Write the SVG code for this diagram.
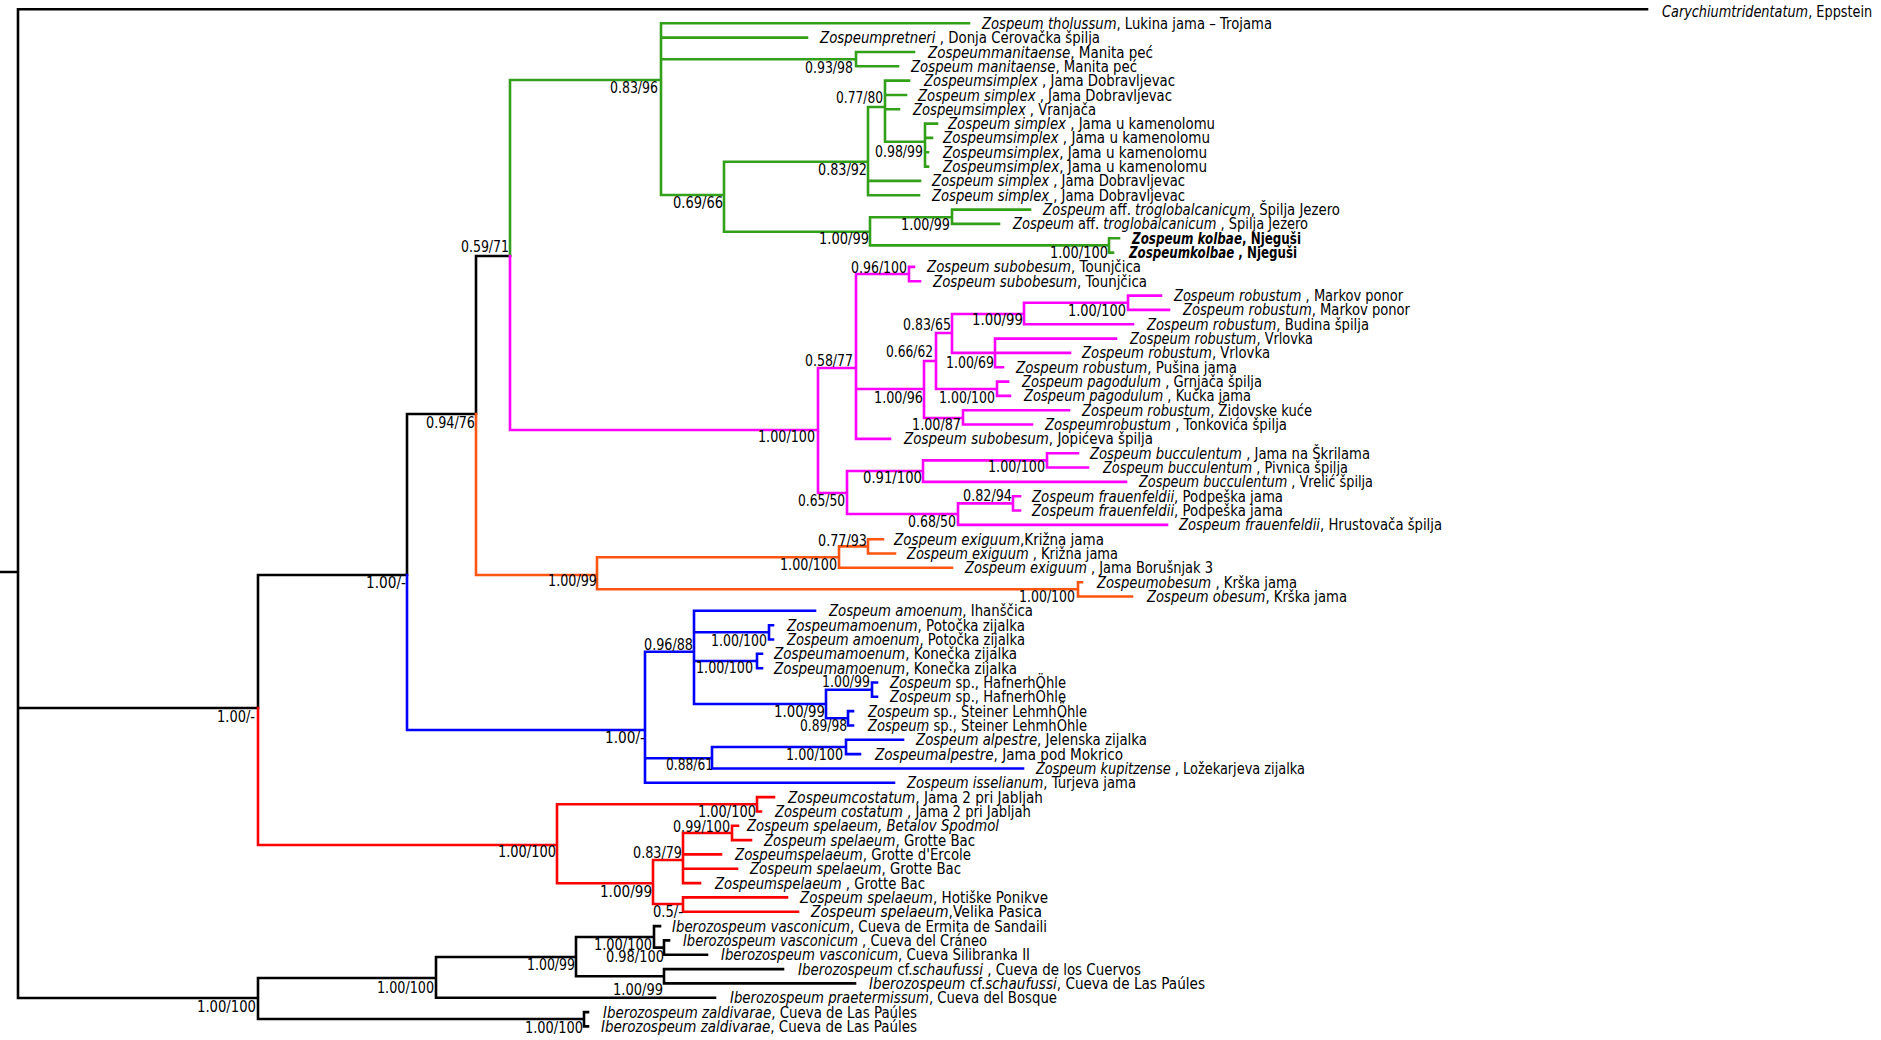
<svg xmlns="http://www.w3.org/2000/svg" width="1881" height="1040" viewBox="0 0 1881 1040">
<style>
text{font-family:"DejaVu Sans","Liberation Sans",sans-serif;font-size:16px;fill:#000}
.i{font-style:italic}
.bd{font-weight:bold}
.b{text-anchor:end}
path{fill:none;stroke-width:2.6;stroke-linecap:square}
.k{stroke:#000}
.gr{stroke:#33a01a}
.mg{stroke:#ff00ff}
.or{stroke:#ff5511}
.bl{stroke:#0000ff}
.rd{stroke:#ff0000}
</style>
<rect width="1881" height="1040" fill="#fff"/>
<g id="connectors">
<path class="k" d="M18,9.3H1647M18,9.3V998M0,572H18M18,708H258M18,998H258M258,575V708M258,575H407M407,414V575M407,414H476M476,256V414M476,256H510
M258,978V1019M258,978H436M258,1019H584M436,957V997.7M436,957H576M436,997.7H715M576,937V976.3M576,937H654M576,976.3H664M654,926.1V947.6M654,926.1H660M654,947.6H664M664,940.4V954.8M664,940.4H669M664,954.8H707M664,969.1V983.4M664,969.1H783M664,983.4H855M584,1012.1V1026.4M584,1012.1H588M584,1026.4H588"/>
<path class="gr" d="M510,80V256M510,80H661M661,23.3V195M661,23.3H969M661,37.6H807M661,59.2H856M856,52V66.3M856,52H914M856,66.3H898M661,195H724M724,161.7V231.7M724,161.7H868M868,107V195.3M868,107H885M868,180.9H920M868,195.3H919M885,80.6V141.7M885,80.6H909M885,95H906M885,109.3H899M885,141.7H925M925,123.6V166.6M925,123.6H937M925,137.9H932M925,152.3H928M925,166.6H928M724,231.7H870M870,217.3V245.4M870,217.3H952M870,245.4H1109M952,209.6V223.9M952,209.6H1030M952,223.9H999M1109,238.3V252.6M1109,238.3H1119M1109,252.6H1113"/>
<path class="mg" d="M510,256V430M510,430H818M818,368V493M818,368H856M856,274V438.9M856,274H909M856,389H924M856,438.9H890M909,266.9V281.2M909,266.9H914M909,281.2H920M924,361V418M924,361H936M924,418H963M936,333V389M936,333H952M936,389H997M952,314V352.9M952,314H1024M952,352.9H1070M1024,302.7V324.2M1024,302.7H1128M1024,324.2H1133M1128,295.6V309.9M1128,295.6H1161M1128,309.9H1169M995,338.6V367.2M995,338.6H1116M995,367.2H1003M997,381.6V395.9M997,381.6H1008M997,395.9H1010M963,410.2V424.5M963,410.2H1069M963,424.5H1032M818,493H847M847,471V514M847,471H923M847,514H958M923,460.4V481.9M923,460.4H1047M923,481.9H1126M1047,453.2V467.5M1047,453.2H1078M1047,467.5H1088M958,503.4V524.9M958,503.4H1013M958,524.9H1167M1013,496.2V510.5M1013,496.2H1020M1013,510.5H1020"/>
<path class="or" d="M476,414V575M476,575H597M597,557.3V589.3M597,557.3H839M597,589.3H1078M839,546.4V567.8M839,546.4H868M839,567.8H952M868,539.2V553.5M868,539.2H883M868,553.5H895M1078,582.2V596.5M1078,582.2H1082M1078,596.5H1132"/>
<path class="bl" d="M407,575V730M407,730H645M645,651.7V782.8M645,651.7H694M645,758.3H712M645,782.8H894M694,610.8V704M694,610.8H815M694,632.3H769M694,661H757M694,704H826M769,625.2V639.5M769,625.2H773M769,639.5H773M757,653.8V668.2M757,653.8H762M757,668.2H762M826,689.7V718.3M826,689.7H872M826,718.3H848M872,682.5V696.8M872,682.5H877M872,696.8H877M848,711.1V725.5M848,711.1H853M848,725.5H853M712,747V768.5M712,747H846M712,768.5H1023M846,739.8V754.1M846,739.8H903M846,754.1H860"/>
<path class="rd" d="M258,708V845M258,845H557M557,804.3V883.3M557,804.3H757M557,883.3H653M757,797.1V811.5M757,797.1H774M757,811.5H761M653,860V904M653,860H683M653,904H683M683,833V883.1M683,833H732M683,854.4H721M683,868.8H737M683,883.1H700M732,825.8V840.1M732,825.8H738M732,840.1H751M683,897.4V911.8M683,897.4H787M683,911.8H798"/>
</g>
<g id="support">
<g id="s1"><text class="b" x="658" y="93" textLength="48" lengthAdjust="spacingAndGlyphs">0.83/96</text></g>
<g id="s2"><text class="b" x="853" y="73" textLength="48" lengthAdjust="spacingAndGlyphs">0.93/98</text></g>
<g id="s3"><text class="b" x="883" y="103" textLength="47" lengthAdjust="spacingAndGlyphs">0.77/80</text></g>
<g id="s4"><text class="b" x="923" y="157" textLength="48" lengthAdjust="spacingAndGlyphs">0.98/99</text></g>
<g id="s5"><text class="b" x="867" y="175" textLength="49" lengthAdjust="spacingAndGlyphs">0.83/92</text></g>
<g id="s6"><text class="b" x="723" y="208" textLength="50" lengthAdjust="spacingAndGlyphs">0.69/66</text></g>
<g id="s7"><text class="b" x="869" y="244" textLength="50" lengthAdjust="spacingAndGlyphs">1.00/99</text></g>
<g id="s8"><text class="b" x="950" y="230" textLength="49" lengthAdjust="spacingAndGlyphs">1.00/99</text></g>
<g id="s9"><text class="b" x="1108" y="258" textLength="58" lengthAdjust="spacingAndGlyphs">1.00/100</text></g>
<g id="s10"><text class="b" x="509" y="252" textLength="48" lengthAdjust="spacingAndGlyphs">0.59/71</text></g>
<g id="s11"><text class="b" x="475" y="428" textLength="49" lengthAdjust="spacingAndGlyphs">0.94/76</text></g>
<g id="s12"><text class="b" x="406" y="588" textLength="40" lengthAdjust="spacingAndGlyphs">1.00/-</text></g>
<g id="s13"><text class="b" x="255" y="722" textLength="38" lengthAdjust="spacingAndGlyphs">1.00/-</text></g>
<g id="s14"><text class="b" x="256" y="1012" textLength="59" lengthAdjust="spacingAndGlyphs">1.00/100</text></g>
<g id="s15"><text class="b" x="434" y="993" textLength="57" lengthAdjust="spacingAndGlyphs">1.00/100</text></g>
<g id="s16"><text class="b" x="575" y="970" textLength="48" lengthAdjust="spacingAndGlyphs">1.00/99</text></g>
<g id="s17"><text class="b" x="652" y="950" textLength="58" lengthAdjust="spacingAndGlyphs">1.00/100</text></g>
<g id="s18"><text class="b" x="664" y="962" textLength="58" lengthAdjust="spacingAndGlyphs">0.98/100</text></g>
<g id="s19"><text class="b" x="663" y="995" textLength="50" lengthAdjust="spacingAndGlyphs">1.00/99</text></g>
<g id="s20"><text class="b" x="583" y="1033" textLength="58" lengthAdjust="spacingAndGlyphs">1.00/100</text></g>
<g id="s21"><text class="b" x="815" y="442" textLength="57" lengthAdjust="spacingAndGlyphs">1.00/100</text></g>
<g id="s22"><text class="b" x="853" y="366" textLength="48" lengthAdjust="spacingAndGlyphs">0.58/77</text></g>
<g id="s23"><text class="b" x="907" y="273" textLength="56" lengthAdjust="spacingAndGlyphs">0.96/100</text></g>
<g id="s24"><text class="b" x="923" y="403" textLength="49" lengthAdjust="spacingAndGlyphs">1.00/96</text></g>
<g id="s25"><text class="b" x="933" y="357" textLength="47" lengthAdjust="spacingAndGlyphs">0.66/62</text></g>
<g id="s26"><text class="b" x="995" y="403" textLength="56" lengthAdjust="spacingAndGlyphs">1.00/100</text></g>
<g id="s27"><text class="b" x="951" y="330" textLength="48" lengthAdjust="spacingAndGlyphs">0.83/65</text></g>
<g id="s28"><text class="b" x="1023" y="325" textLength="51" lengthAdjust="spacingAndGlyphs">1.00/99</text></g>
<g id="s29"><text class="b" x="1126" y="316" textLength="58" lengthAdjust="spacingAndGlyphs">1.00/100</text></g>
<g id="s30"><text class="b" x="994" y="368" textLength="48" lengthAdjust="spacingAndGlyphs">1.00/69</text></g>
<g id="s31"><text class="b" x="961" y="430" textLength="49" lengthAdjust="spacingAndGlyphs">1.00/87</text></g>
<g id="s32"><text class="b" x="845" y="506" textLength="47" lengthAdjust="spacingAndGlyphs">0.65/50</text></g>
<g id="s33"><text class="b" x="922" y="483" textLength="59" lengthAdjust="spacingAndGlyphs">0.91/100</text></g>
<g id="s34"><text class="b" x="1045" y="472" textLength="57" lengthAdjust="spacingAndGlyphs">1.00/100</text></g>
<g id="s35"><text class="b" x="956" y="527" textLength="48" lengthAdjust="spacingAndGlyphs">0.68/50</text></g>
<g id="s36"><text class="b" x="1012" y="501" textLength="49" lengthAdjust="spacingAndGlyphs">0.82/94</text></g>
<g id="s37"><text class="b" x="597" y="586" textLength="49" lengthAdjust="spacingAndGlyphs">1.00/99</text></g>
<g id="s38"><text class="b" x="867" y="546" textLength="49" lengthAdjust="spacingAndGlyphs">0.77/93</text></g>
<g id="s39"><text class="b" x="837" y="570" textLength="57" lengthAdjust="spacingAndGlyphs">1.00/100</text></g>
<g id="s40"><text class="b" x="1075" y="602" textLength="56" lengthAdjust="spacingAndGlyphs">1.00/100</text></g>
<g id="s41"><text class="b" x="645" y="743" textLength="40" lengthAdjust="spacingAndGlyphs">1.00/-</text></g>
<g id="s42"><text class="b" x="693" y="650" textLength="49" lengthAdjust="spacingAndGlyphs">0.96/88</text></g>
<g id="s43"><text class="b" x="767" y="646" textLength="56" lengthAdjust="spacingAndGlyphs">1.00/100</text></g>
<g id="s44"><text class="b" x="753" y="673" textLength="57" lengthAdjust="spacingAndGlyphs">1.00/100</text></g>
<g id="s45"><text class="b" x="825" y="717" textLength="51" lengthAdjust="spacingAndGlyphs">1.00/99</text></g>
<g id="s46"><text class="b" x="870" y="687" textLength="48" lengthAdjust="spacingAndGlyphs">1.00/99</text></g>
<g id="s47"><text class="b" x="847" y="731" textLength="47" lengthAdjust="spacingAndGlyphs">0.89/98</text></g>
<g id="s48"><text class="b" x="713" y="770" textLength="47" lengthAdjust="spacingAndGlyphs">0.88/61</text></g>
<g id="s49"><text class="b" x="843" y="760" textLength="57" lengthAdjust="spacingAndGlyphs">1.00/100</text></g>
<g id="s50"><text class="b" x="556" y="857" textLength="58" lengthAdjust="spacingAndGlyphs">1.00/100</text></g>
<g id="s51"><text class="b" x="756" y="817" textLength="58" lengthAdjust="spacingAndGlyphs">1.00/100</text></g>
<g id="s52"><text class="b" x="730" y="832" textLength="57" lengthAdjust="spacingAndGlyphs">0.99/100</text></g>
<g id="s53"><text class="b" x="682" y="858" textLength="49" lengthAdjust="spacingAndGlyphs">0.83/79</text></g>
<g id="s54"><text class="b" x="652" y="897" textLength="52" lengthAdjust="spacingAndGlyphs">1.00/99</text></g>
<g id="s55"><text class="b" x="683" y="917" textLength="30" lengthAdjust="spacingAndGlyphs">0.5/-</text></g>
</g>
<g id="tips">
<g id="t0"><text transform="translate(1662,17) scale(0.72,1)" x="0" y="0" textLength="292" lengthAdjust="spacingAndGlyphs"><tspan class="i">Carychiumtridentatum</tspan>, Eppstein</text></g>
<g id="t1"><text x="982" y="28.8" textLength="290" lengthAdjust="spacingAndGlyphs"><tspan class="i">Zospeum tholussum</tspan>, Lukina jama – Trojama</text></g>
<g id="t2"><text x="820" y="43.1" textLength="280" lengthAdjust="spacingAndGlyphs"><tspan class="i">Zospeumpretneri</tspan> , Donja Cerovačka špilja</text></g>
<g id="t3"><text x="928" y="57.5" textLength="225" lengthAdjust="spacingAndGlyphs"><tspan class="i">Zospeummanitaense</tspan>, Manita peć</text></g>
<g id="t4"><text x="911" y="71.8" textLength="226" lengthAdjust="spacingAndGlyphs"><tspan class="i">Zospeum manitaense</tspan>, Manita peć</text></g>
<g id="t5"><text x="924" y="86.1" textLength="251" lengthAdjust="spacingAndGlyphs"><tspan class="i">Zospeumsimplex</tspan> , Jama Dobravljevac</text></g>
<g id="t6"><text x="918" y="100.5" textLength="254" lengthAdjust="spacingAndGlyphs"><tspan class="i">Zospeum simplex</tspan> , Jama Dobravljevac</text></g>
<g id="t7"><text x="913" y="114.8" textLength="183" lengthAdjust="spacingAndGlyphs"><tspan class="i">Zospeumsimplex</tspan> , Vranjača</text></g>
<g id="t8"><text x="948" y="129.1" textLength="267" lengthAdjust="spacingAndGlyphs"><tspan class="i">Zospeum simplex</tspan> , Jama u kamenolomu</text></g>
<g id="t9"><text x="943" y="143.4" textLength="267" lengthAdjust="spacingAndGlyphs"><tspan class="i">Zospeumsimplex</tspan> , Jama u kamenolomu</text></g>
<g id="t10"><text x="943" y="157.8" textLength="264" lengthAdjust="spacingAndGlyphs"><tspan class="i">Zospeumsimplex</tspan>, Jama u kamenolomu</text></g>
<g id="t11"><text x="943" y="172.1" textLength="264" lengthAdjust="spacingAndGlyphs"><tspan class="i">Zospeumsimplex</tspan>, Jama u kamenolomu</text></g>
<g id="t12"><text x="932" y="186.4" textLength="253" lengthAdjust="spacingAndGlyphs"><tspan class="i">Zospeum simplex</tspan> , Jama Dobravljevac</text></g>
<g id="t13"><text x="932" y="200.8" textLength="253" lengthAdjust="spacingAndGlyphs"><tspan class="i">Zospeum simplex</tspan> , Jama Dobravljevac</text></g>
<g id="t14"><text x="1043" y="215.1" textLength="297" lengthAdjust="spacingAndGlyphs"><tspan class="i">Zospeum</tspan> aff. <tspan class="i">troglobalcanicum</tspan>, Špilja Jezero</text></g>
<g id="t15"><text x="1013" y="229.4" textLength="295" lengthAdjust="spacingAndGlyphs"><tspan class="i">Zospeum</tspan> aff. <tspan class="i">troglobalcanicum</tspan> , Špilja Jezero</text></g>
<g id="t16"><text class="bd" x="1132" y="243.8" textLength="169" lengthAdjust="spacingAndGlyphs"><tspan class="i">Zospeum kolbae</tspan>, Njeguši</text></g>
<g id="t17"><text class="bd" x="1129" y="258.1" textLength="168" lengthAdjust="spacingAndGlyphs"><tspan class="i">Zospeumkolbae</tspan> , Njeguši</text></g>
<g id="t18"><text x="927" y="272.4" textLength="214" lengthAdjust="spacingAndGlyphs"><tspan class="i">Zospeum subobesum</tspan>, Tounjčica</text></g>
<g id="t19"><text x="933" y="286.7" textLength="214" lengthAdjust="spacingAndGlyphs"><tspan class="i">Zospeum subobesum</tspan>, Tounjčica</text></g>
<g id="t20"><text x="1174" y="301.1" textLength="229" lengthAdjust="spacingAndGlyphs"><tspan class="i">Zospeum robustum</tspan> , Markov ponor</text></g>
<g id="t21"><text x="1183" y="315.4" textLength="227" lengthAdjust="spacingAndGlyphs"><tspan class="i">Zospeum robustum</tspan>, Markov ponor</text></g>
<g id="t22"><text x="1147" y="329.7" textLength="222" lengthAdjust="spacingAndGlyphs"><tspan class="i">Zospeum robustum</tspan>, Budina špilja</text></g>
<g id="t23"><text x="1130" y="344.1" textLength="183" lengthAdjust="spacingAndGlyphs"><tspan class="i">Zospeum robustum</tspan>, Vrlovka</text></g>
<g id="t24"><text x="1082" y="358.4" textLength="188" lengthAdjust="spacingAndGlyphs"><tspan class="i">Zospeum robustum</tspan>, Vrlovka</text></g>
<g id="t25"><text x="1016" y="372.7" textLength="221" lengthAdjust="spacingAndGlyphs"><tspan class="i">Zospeum robustum</tspan>, Pušina jama</text></g>
<g id="t26"><text x="1022" y="387.1" textLength="240" lengthAdjust="spacingAndGlyphs"><tspan class="i">Zospeum pagodulum</tspan> , Grnjača špilja</text></g>
<g id="t27"><text x="1024" y="401.4" textLength="227" lengthAdjust="spacingAndGlyphs"><tspan class="i">Zospeum pagodulum</tspan> , Kučka jama</text></g>
<g id="t28"><text x="1082" y="415.7" textLength="230" lengthAdjust="spacingAndGlyphs"><tspan class="i">Zospeum robustum</tspan>, Židovske kuće</text></g>
<g id="t29"><text x="1045" y="430" textLength="242" lengthAdjust="spacingAndGlyphs"><tspan class="i">Zospeumrobustum</tspan> , Tonkovića špilja</text></g>
<g id="t30"><text x="904" y="444.4" textLength="249" lengthAdjust="spacingAndGlyphs"><tspan class="i">Zospeum subobesum</tspan>, Jopićeva špilja</text></g>
<g id="t31"><text x="1090" y="458.7" textLength="280" lengthAdjust="spacingAndGlyphs"><tspan class="i">Zospeum bucculentum</tspan> , Jama  na Škrilama</text></g>
<g id="t32"><text x="1103" y="473" textLength="245" lengthAdjust="spacingAndGlyphs"><tspan class="i">Zospeum bucculentum</tspan> , Pivnica špilja</text></g>
<g id="t33"><text x="1139" y="487.4" textLength="234" lengthAdjust="spacingAndGlyphs"><tspan class="i">Zospeum bucculentum</tspan> , Vrelić špilja</text></g>
<g id="t34"><text x="1032" y="501.7" textLength="251" lengthAdjust="spacingAndGlyphs"><tspan class="i">Zospeum frauenfeldii</tspan>, Podpeška jama</text></g>
<g id="t35"><text x="1032" y="516" textLength="251" lengthAdjust="spacingAndGlyphs"><tspan class="i">Zospeum frauenfeldii</tspan>, Podpeška jama</text></g>
<g id="t36"><text x="1179" y="530.4" textLength="263" lengthAdjust="spacingAndGlyphs"><tspan class="i">Zospeum frauenfeldii</tspan>, Hrustovača špilja</text></g>
<g id="t37"><text x="894" y="544.7" textLength="210" lengthAdjust="spacingAndGlyphs"><tspan class="i">Zospeum exiguum</tspan>,Križna jama</text></g>
<g id="t38"><text x="907" y="559" textLength="211" lengthAdjust="spacingAndGlyphs"><tspan class="i">Zospeum exiguum</tspan> , Križna jama</text></g>
<g id="t39"><text x="965" y="573.3" textLength="248" lengthAdjust="spacingAndGlyphs"><tspan class="i">Zospeum exiguum</tspan> , Jama Borušnjak 3</text></g>
<g id="t40"><text x="1097" y="587.7" textLength="200" lengthAdjust="spacingAndGlyphs"><tspan class="i">Zospeumobesum</tspan> , Krška jama</text></g>
<g id="t41"><text x="1147" y="602" textLength="200" lengthAdjust="spacingAndGlyphs"><tspan class="i">Zospeum obesum</tspan>, Krška jama</text></g>
<g id="t42"><text x="829" y="616.3" textLength="204" lengthAdjust="spacingAndGlyphs"><tspan class="i">Zospeum amoenum</tspan>, Ihanščica</text></g>
<g id="t43"><text x="787" y="630.7" textLength="238" lengthAdjust="spacingAndGlyphs"><tspan class="i">Zospeumamoenum</tspan>, Potočka zijalka</text></g>
<g id="t44"><text x="787" y="645" textLength="238" lengthAdjust="spacingAndGlyphs"><tspan class="i">Zospeum amoenum</tspan>, Potočka zijalka</text></g>
<g id="t45"><text x="774" y="659.3" textLength="243" lengthAdjust="spacingAndGlyphs"><tspan class="i">Zospeumamoenum</tspan>, Konečka zijalka</text></g>
<g id="t46"><text x="774" y="673.7" textLength="243" lengthAdjust="spacingAndGlyphs"><tspan class="i">Zospeumamoenum</tspan>, Konečka zijalka</text></g>
<g id="t47"><text x="890" y="688" textLength="176" lengthAdjust="spacingAndGlyphs"><tspan class="i">Zospeum</tspan> sp., HafnerhÖhle</text></g>
<g id="t48"><text x="890" y="702.3" textLength="176" lengthAdjust="spacingAndGlyphs"><tspan class="i">Zospeum</tspan> sp., HafnerhÖhle</text></g>
<g id="t49"><text x="868" y="716.6" textLength="219" lengthAdjust="spacingAndGlyphs"><tspan class="i">Zospeum</tspan> sp., Steiner LehmhÖhle</text></g>
<g id="t50"><text x="868" y="731" textLength="219" lengthAdjust="spacingAndGlyphs"><tspan class="i">Zospeum</tspan> sp., Steiner LehmhÖhle</text></g>
<g id="t51"><text x="916" y="745.3" textLength="231" lengthAdjust="spacingAndGlyphs"><tspan class="i">Zospeum alpestre</tspan>, Jelenska zijalka</text></g>
<g id="t52"><text x="875" y="759.6" textLength="248" lengthAdjust="spacingAndGlyphs"><tspan class="i">Zospeumalpestre</tspan>, Jama pod Mokrico</text></g>
<g id="t53"><text x="1036" y="774" textLength="269" lengthAdjust="spacingAndGlyphs"><tspan class="i">Zospeum kupitzense</tspan> , Ložekarjeva zijalka</text></g>
<g id="t54"><text x="907" y="788.3" textLength="229" lengthAdjust="spacingAndGlyphs"><tspan class="i">Zospeum isselianum</tspan>, Turjeva jama</text></g>
<g id="t55"><text x="788" y="802.6" textLength="255" lengthAdjust="spacingAndGlyphs"><tspan class="i">Zospeumcostatum</tspan>, Jama 2 pri Jabljah</text></g>
<g id="t56"><text x="775" y="817" textLength="256" lengthAdjust="spacingAndGlyphs"><tspan class="i">Zospeum costatum</tspan> , Jama 2 pri Jabljah</text></g>
<g id="t57"><text class="i" x="747" y="831.3" textLength="252" lengthAdjust="spacingAndGlyphs">Zospeum spelaeum, Betalov Spodmol</text></g>
<g id="t58"><text x="764" y="845.6" textLength="211" lengthAdjust="spacingAndGlyphs"><tspan class="i">Zospeum spelaeum</tspan>, Grotte Bac</text></g>
<g id="t59"><text x="735" y="859.9" textLength="236" lengthAdjust="spacingAndGlyphs"><tspan class="i">Zospeumspelaeum</tspan>, Grotte d'Ercole</text></g>
<g id="t60"><text x="750" y="874.3" textLength="211" lengthAdjust="spacingAndGlyphs"><tspan class="i">Zospeum spelaeum</tspan>, Grotte Bac</text></g>
<g id="t61"><text x="715" y="888.6" textLength="210" lengthAdjust="spacingAndGlyphs"><tspan class="i">Zospeumspelaeum</tspan> , Grotte Bac</text></g>
<g id="t62"><text x="800" y="902.9" textLength="248" lengthAdjust="spacingAndGlyphs"><tspan class="i">Zospeum spelaeum</tspan>, Hotiške Ponikve</text></g>
<g id="t63"><text x="811" y="917.3" textLength="231" lengthAdjust="spacingAndGlyphs"><tspan class="i">Zospeum spelaeum</tspan>,Velika Pasica</text></g>
<g id="t64"><text x="672" y="931.6" textLength="375" lengthAdjust="spacingAndGlyphs"><tspan class="i">Iberozospeum vasconicum</tspan>, Cueva  de Ermita de Sandaili</text></g>
<g id="t65"><text x="683" y="945.9" textLength="304" lengthAdjust="spacingAndGlyphs"><tspan class="i">Iberozospeum vasconicum</tspan> , Cueva del Cráneo</text></g>
<g id="t66"><text x="721" y="960.3" textLength="309" lengthAdjust="spacingAndGlyphs"><tspan class="i">Iberozospeum vasconicum</tspan>, Cueva Silibranka II</text></g>
<g id="t67"><text x="798" y="974.6" textLength="343" lengthAdjust="spacingAndGlyphs"><tspan class="i">Iberozospeum</tspan> cf.<tspan class="i">schaufussi</tspan> , Cueva de los Cuervos</text></g>
<g id="t68"><text x="869" y="988.9" textLength="336" lengthAdjust="spacingAndGlyphs"><tspan class="i">Iberozospeum</tspan> cf.<tspan class="i">schaufussi</tspan>, Cueva de Las Paúles</text></g>
<g id="t69"><text x="730" y="1003.2" textLength="327" lengthAdjust="spacingAndGlyphs"><tspan class="i">Iberozospeum praetermissum</tspan>, Cueva del Bosque</text></g>
<g id="t70"><text x="603" y="1017.6" textLength="314" lengthAdjust="spacingAndGlyphs"><tspan class="i">Iberozospeum zaldivarae</tspan>, Cueva de Las Paúles</text></g>
<g id="t71"><text x="601" y="1031.9" textLength="316" lengthAdjust="spacingAndGlyphs"><tspan class="i">Iberozospeum zaldivarae</tspan>, Cueva de Las Paúles</text></g>
</g>
</svg>
